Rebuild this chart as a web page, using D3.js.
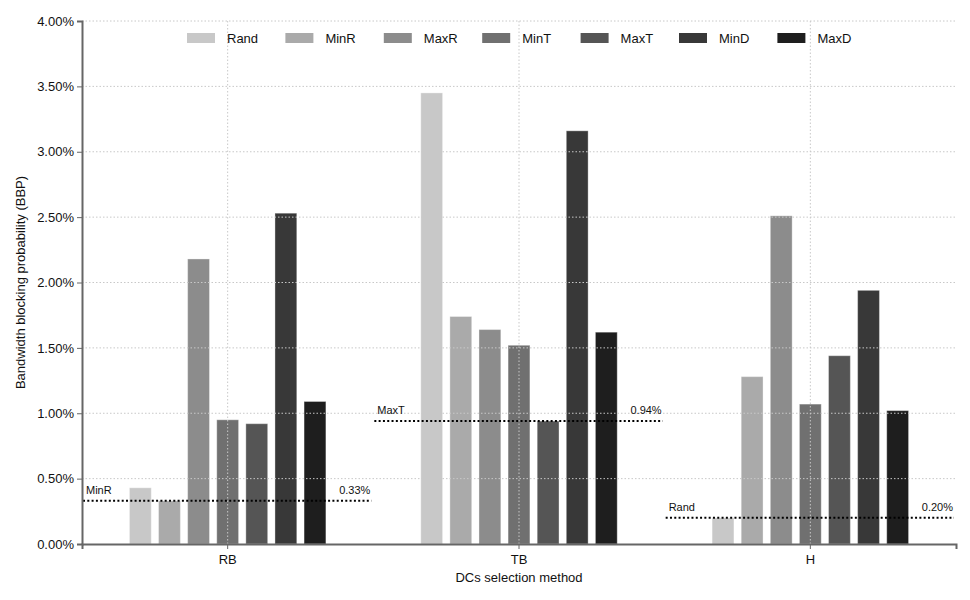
<!DOCTYPE html>
<html>
<head>
<meta charset="utf-8">
<script src="https://cdn.jsdelivr.net/npm/d3@7"></script>
<style>
  body { margin: 0; background: #fff; }
  text { font-family: "Liberation Sans", Arial, sans-serif; fill: #111; }
</style>
</head>
<body>
<div id="chart"></div>
<script>
// groups on the x axis
var methods = ["RB", "TB", "H"];
// series (one bar per series inside each group)
var series = ["Rand", "MinR", "MaxR", "MinT", "MaxT", "MinD", "MaxD"];
var colors = ["#c8c8c8", "#aaaaaa", "#8c8c8c", "#707070", "#555555", "#383838", "#1e1e1e"];
// BBP in percent, one row per method, ordered like series
var valuesRB = [0.43, 0.33, 2.18, 0.95, 0.92, 2.53, 1.09];
var valuesTB = [3.45, 1.74, 1.64, 1.52, 0.94, 3.16, 1.62];
var valuesH  = [0.20, 1.28, 2.51, 1.07, 1.44, 1.94, 1.02];
var yTicks = [0, 0.5, 1, 1.5, 2, 2.5, 3, 3.5, 4];

var rows = [valuesRB, valuesTB, valuesH];

var margin = {top: 21, right: 14, bottom: 56, left: 82},
    width = 970 - margin.left - margin.right,
    height = 600 - margin.top - margin.bottom;

var x0 = d3.scaleBand().domain(methods).range([0, width]).padding(0);
var x1 = d3.scaleBand().domain(series).range([0, x0.bandwidth()])
    .paddingInner(0.25).paddingOuter(1.63);
var y = d3.scaleLinear().domain([0, 4]).range([height, 0]);
var color = d3.scaleOrdinal().domain(series).range(colors);

var svg = d3.select("#chart").append("svg")
    .attr("width", 970)
    .attr("height", 600);
var canvas = svg.append("g")
    .attr("transform", "translate(" + margin.left + "," + margin.top + ")");

// bars
var groups = canvas.selectAll(".group")
    .data(methods)
    .enter().append("g")
    .attr("transform", function(d) { return "translate(" + x0(d) + ",0)"; });

groups.selectAll("rect")
    .data(function(d, i) {
        return series.map(function(s, j) { return {key: s, value: rows[i][j]}; });
    })
    .enter().append("rect")
    .attr("x", function(d) { return x1(d.key); })
    .attr("y", function(d) { return y(d.value); })
    .attr("width", x1.bandwidth())
    .attr("height", function(d) { return height - y(d.value); })
    .attr("fill", function(d) { return color(d.key); })
    .attr("stroke", "#fff")
    .attr("stroke-opacity", 0.35)
    .attr("stroke-width", 1);

// grid drawn over the bars, like the original
canvas.append("g").selectAll("line")
    .data(yTicks.slice(1))
    .enter().append("line")
    .attr("x1", 0).attr("x2", width)
    .attr("y1", function(d) { return y(d); })
    .attr("y2", function(d) { return y(d); })
    .attr("stroke", "#c8c8c8")
    .attr("stroke-width", 1)
    .attr("stroke-dasharray", "1.5,2");

canvas.append("g").selectAll("line")
    .data(methods)
    .enter().append("line")
    .attr("x1", function(d) { return x0(d) + x0.bandwidth() / 2; })
    .attr("x2", function(d) { return x0(d) + x0.bandwidth() / 2; })
    .attr("y1", 0).attr("y2", height)
    .attr("stroke", "#c8c8c8")
    .attr("stroke-width", 1)
    .attr("stroke-dasharray", "1.5,2");

// minimum reference line per group
methods.forEach(function(m, i) {
    var j = d3.minIndex(rows[i]);
    var v = rows[i][j];
    var bx = x0(m);
    canvas.append("line")
        .attr("x1", bx + 1).attr("x2", x0.bandwidth() + bx - 2)
        .attr("y1", y(v)).attr("y2", y(v))
        .attr("stroke", "#000")
        .attr("stroke-width", 2)
        .attr("stroke-dasharray", "2,2.3");
    canvas.append("text")
        .attr("x", bx + 4)
        .attr("y", y(v) - 7)
        .style("font-size", "11px")
        .text(series[j]);
    canvas.append("text")
        .attr("x", bx + x0.bandwidth() - 3)
        .attr("y", y(v) - 7)
        .attr("text-anchor", "end")
        .style("font-size", "11px")
        .text(v.toFixed(2) + "%");
});

// x axis
var xAxis = canvas.append("g")
    .attr("transform", "translate(0," + height + ")")
    .call(d3.axisBottom(x0).tickSizeOuter(0).tickSize(5).tickPadding(6));
xAxis.select(".domain").attr("stroke", "#666").attr("stroke-width", 2);
xAxis.selectAll(".tick line").attr("stroke", "#666");
xAxis.selectAll("text").style("font-size", "13px").attr("fill", "#111");

canvas.append("text")
    .attr("x", width / 2)
    .attr("y", height + 38)
    .style("text-anchor", "middle")
    .style("font-size", "13px")
    .text("DCs selection method");

// y axis
var yAxis = canvas.append("g")
    .call(d3.axisLeft(y).tickValues(yTicks).tickSizeOuter(0).tickSize(5).tickPadding(3)
        .tickFormat(function(d) { return d.toFixed(2) + "%"; }));
yAxis.select(".domain").attr("stroke", "#666").attr("stroke-width", 2);
yAxis.selectAll(".tick line").attr("stroke", "#666");
yAxis.selectAll("text").style("font-size", "13px").attr("fill", "#111");

canvas.append("text")
    .attr("transform", "rotate(-90)")
    .attr("x", -height / 2)
    .attr("y", -margin.left + 25)
    .style("text-anchor", "middle")
    .style("font-size", "13px")
    .text("Bandwidth blocking probability (BBP)");

// legend
var legend = svg.append("g")
    .attr("transform", "translate(187,33)");
var item = legend.selectAll("g")
    .data(series)
    .enter().append("g")
    .attr("transform", function(d, i) { return "translate(" + (i * 98.4) + ",0)"; });
item.append("rect")
    .attr("width", 28).attr("height", 10)
    .attr("fill", function(d) { return color(d); });
item.append("text")
    .attr("x", 40).attr("y", 5)
    .attr("dy", "0.35em")
    .style("font-size", "13px")
    .text(function(d) { return d; });
</script>
</body>
</html>
